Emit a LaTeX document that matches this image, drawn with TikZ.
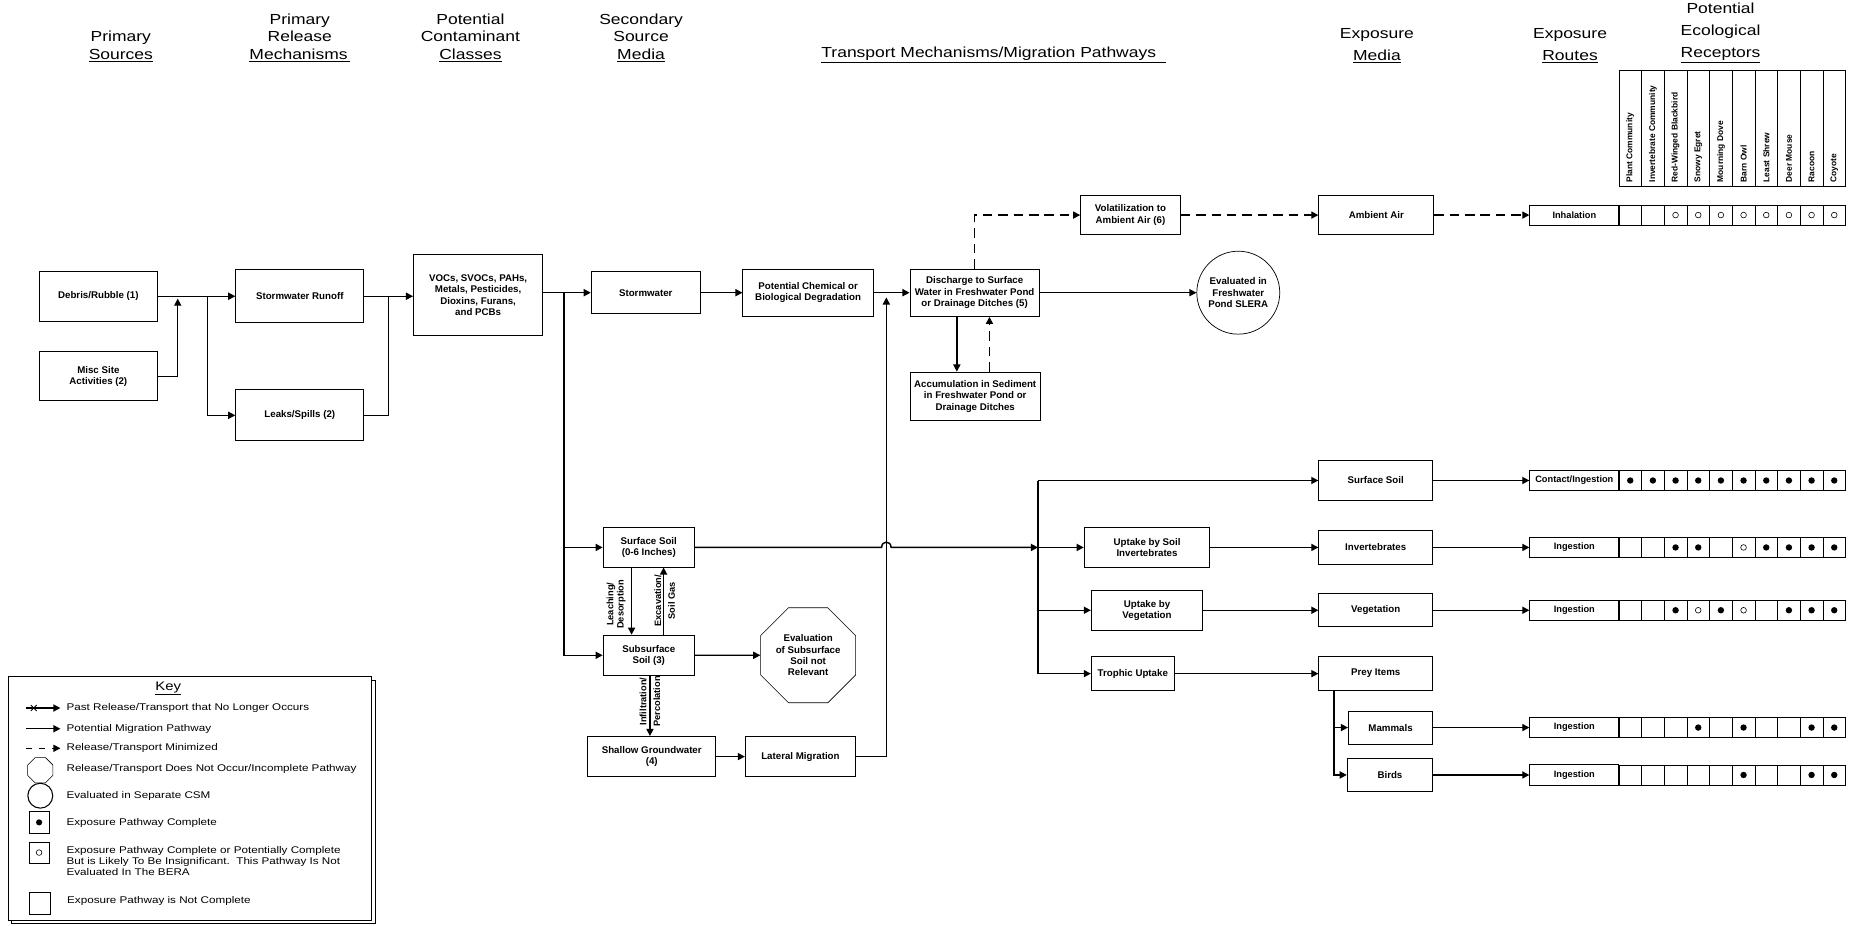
\documentclass[tikz,border=0pt]{standalone}
\usepackage{fontspec}
\setmainfont{Liberation Sans}[FakeStretch=1.2]
\newfontfamily\recfont{Liberation Sans}
\usetikzlibrary{arrows.meta,shapes.geometric}

\newcommand{\boxfont}{\recfont\fontsize{8.2}{9.5}\selectfont\bfseries}
\newcommand{\hdrfont}{\fontsize{12.3}{14.8}\selectfont}
\newcommand{\keyfont}{\fontsize{8.2}{9.4}\selectfont}
\newcommand{\rowfont}{\recfont\fontsize{7.8}{9}\selectfont\bfseries}
\newcommand{\recepfont}{\recfont\fontsize{7.1}{8}\selectfont\bfseries}
\newcommand{\lblfont}{\recfont\fontsize{7.8}{8.6}\selectfont\bfseries}

% one exposure route row: name, y, label, codes (0 none, 1 complete, 2 insignificant)
\newcommand{\exprow}[4]{%
  \node[routebox] (#1) at (1328.6,#2) {#3};
  \foreach \val [count=\col] in {#4} {
    \draw[cell] ({1366.2+(\col-1)*19.13},{#2-8.5}) rectangle ++(19.13,17);
    \ifnum\val=1 \fill ({1366.2+(\col-0.5)*19.13},#2) circle (2.7pt);\fi
    \ifnum\val=2 \draw[line width=0.5pt] ({1366.2+(\col-0.5)*19.13},#2) circle (2.4pt);\fi
  }
}

\begin{document}
\begin{tikzpicture}[x=1pt,y=-1pt,
  box/.style={draw, line width=0.8pt, align=center, font=\boxfont, inner sep=1pt},
  flow/.style={line width=1.2pt, -{Triangle[length=6pt,width=6pt]}},
  dflow/.style={flow, dash pattern=on 8pt off 5pt},
  link/.style={line width=1.2pt},
  hdr/.style={align=center, font=\hdrfont, inner sep=0pt, anchor=south},
  routebox/.style={draw, line width=0.7pt, minimum width=75.2pt, minimum height=17pt, inner sep=0pt, font=\rowfont},
  cell/.style={draw, line width=0.6pt},
  recep/.style={rotate=90, anchor=west, font=\recepfont, inner sep=1pt},
  lbl/.style={rotate=90, align=center, font=\lblfont, inner sep=1pt},
  keytxt/.style={anchor=west, align=left, font=\keyfont, inner sep=0pt}]

\useasboundingbox (0,0) rectangle (1568,781);

% column headings
\node[hdr] (hps) at (102,52.5) {Primary\\\underline{Sources}};
\node[hdr] (hprm) at (253,52.5) {Primary\\Release\\\underline{Mechanisms\,}};
\node[hdr] (hpcc) at (397,52.5) {Potential\\Contaminant\\\underline{Classes}};
\node[hdr] (hssm) at (541,52.5) {Secondary\\Source\\\underline{Media}};
\node[hdr, anchor=south west] (htm) at (693,53) {\underline{Transport Mechanisms/Migration Pathways\ \ }};
\node[hdr] (hem) at (1162,53) {Exposure\\[3.5pt]\underline{Media}};
\node[hdr] (her) at (1325,53) {Exposure\\[3.5pt]\underline{Routes}};
\node[hdr] (hper) at (1452,53) {Potential\\[3.5pt]Ecological\\[3.5pt]\underline{Receptors}};

% receptor table heading
\draw[cell] (1366.2,59.7) rectangle (1557.5,157.5);
\foreach \col in {1,...,9}
  \draw[cell] ({1366.2+\col*19.13},59.7) -- ++(0,97.8);
\foreach \r [count=\col] in {Plant Community, Invertebrate Community, Red-Winged Blackbird,
    Snowy Egret, Mourning Dove, Barn Owl, Least Shrew, Deer Mouse, Racoon, Coyote}
  \node[recep] (rec\col) at ({1366.2+(\col-0.5)*19.13},155) {\r};

% sources and release
\node[box, minimum width=100pt, minimum height=42pt] (deb) at (83,250) {Debris/Rubble (1)};
\node[box, minimum width=100pt, minimum height=41pt] (misc) at (83,317.5) {Misc Site\\Activities (2)};
\node[box, minimum width=108pt, minimum height=45pt] (runoff) at (253,250) {Stormwater Runoff};
\node[box, minimum width=108pt, minimum height=43pt] (leaks) at (253,350.5) {Leaks/Spills (2)};
\node[box, minimum width=109pt, minimum height=68pt] (voc) at (403.5,249) {VOCs, SVOCs, PAHs,\\Metals, Pesticides,\\Dioxins, Furans,\\and PCBs};

% secondary media and transport
\node[box, minimum width=92pt, minimum height=35pt] (stw) at (545,247) {Stormwater};
\node[box, minimum width=110pt, minimum height=40pt] (degr) at (682,247) {Potential Chemical or\\Biological Degradation};
\node[box, minimum width=109pt, minimum height=40pt] (disch) at (822.5,247) {Discharge to Surface\\Water in Freshwater Pond\\or Drainage Ditches (5)};
\node[box, minimum width=84pt, minimum height=33pt] (volat) at (954,181.5) {Volatilization to\\Ambient Air (6)};
\node[box, minimum width=97pt, minimum height=33pt] (amb) at (1161.5,181.5) {Ambient Air};
\node[box, circle, minimum size=70pt, line width=0.6pt] (slera) at (1045,247) {Evaluated in\\Freshwater\\Pond SLERA};
\node[box, minimum width=110pt, minimum height=41pt] (accum) at (823,334.5) {Accumulation in Sediment\\in Freshwater Pond or\\Drainage Ditches};
\node[box, minimum width=77pt, minimum height=33pt] (ssoil) at (547.5,462) {Surface Soil\\(0-6 Inches)};
\node[box, minimum width=77pt, minimum height=34pt] (subs) at (547.5,553) {Subsurface\\Soil (3)};
\node[box, regular polygon, regular polygon sides=8, minimum size=85pt, line width=0.5pt] (evsub) at (682,553) {Evaluation\\of Subsurface\\Soil not\\Relevant};
\node[box, minimum width=108pt, minimum height=34pt] (gw) at (550,638.5) {Shallow Groundwater\\(4)};
\node[box, minimum width=93pt, minimum height=34pt] (lat) at (675.5,638.5) {Lateral Migration};

% uptake and exposure media
\node[box, minimum width=106pt, minimum height=34pt] (upinv) at (968,462) {Uptake by Soil\\Invertebrates};
\node[box, minimum width=94pt, minimum height=34pt] (upveg) at (968,515) {Uptake by\\Vegetation};
\node[box, minimum width=70pt, minimum height=29pt] (troph) at (956,568.5) {Trophic Uptake};
\node[box, minimum width=96pt, minimum height=33pt] (msoil) at (1161,405.5) {Surface Soil};
\node[box, minimum width=96pt, minimum height=28pt] (minv) at (1161,462) {Invertebrates};
\node[box, minimum width=96pt, minimum height=28pt] (mveg) at (1161,515) {Vegetation};
\node[box, minimum width=96pt, minimum height=29pt] (prey) at (1161,568.5) {Prey Items};
\node[box, minimum width=71pt, minimum height=28pt] (mam) at (1173.5,614) {Mammals};
\node[box, minimum width=72pt, minimum height=28pt] (bird) at (1173,654) {Birds};

% exposure routes
\exprow{inh}{181.5}{Inhalation}{0,0,2,2,2,2,2,2,2,2}
\exprow{cont}{405.5}{Contact/Ingestion}{1,1,1,1,1,1,1,1,1,1}
\exprow{inginv}{462}{Ingestion}{0,0,1,1,0,2,1,1,1,1}
\exprow{ingveg}{515}{Ingestion}{0,0,1,2,1,2,0,1,1,1}
\exprow{ingmam}{614}{Ingestion}{0,0,0,1,0,1,0,0,1,1}
\exprow{ingbird}{654}{Ingestion}{0,0,0,0,0,1,0,0,1,1}

% left side connectors
\coordinate (j1) at (150,252);
\coordinate (j2) at (175,250);
\coordinate (j3) at (328,250);
\coordinate (j4) at (476,247);
\draw[flow] (deb) -- (runoff);
\draw[flow] (misc.east) -| (j1);
\draw[flow] (j2) |- (leaks.west);
\draw[link] (leaks.east) -| (j3);
\draw[flow] (runoff.east) -- (runoff.east -| voc.west);
\draw[flow] (voc.east |- stw.west) -- (stw.west);
\draw[flow] (j4) |- (subs.west);
\draw[flow] (j4 |- ssoil.west) -- (ssoil.west);
\draw[flow] (stw) -- (degr);
\draw[flow] (degr) -- (disch);

% surface water
\draw[dflow] (disch.north) |- (volat.west);
\draw[dflow] (volat) -- (amb);
\draw[dflow] (amb) -- (inh);
\draw[flow] (disch) -- (slera);
\coordinate (dd) at ([xshift=-15pt]disch.south);
\draw[flow] (dd) -- (dd |- accum.north);
\coordinate (du) at ([xshift=12pt]accum.north);
\draw[dflow] (du) -- (du |- disch.south);

% soil and groundwater
\coordinate (sl) at ([xshift=-14.5pt]ssoil.south);
\draw[flow] (sl) -- (sl |- subs.north);
\node[lbl, anchor=south] (leach) at (529,510) {Leaching/\\Desorption};
\coordinate (se) at ([xshift=12.5pt]subs.north);
\draw[flow] (se) -- (se |- ssoil.south);
\node[lbl] (excav) at (561,507) {Excavation/\\[3pt]Soil Gas};
\coordinate (si) at ([xshift=1pt]subs.south);
\draw[flow] (si) -- (si |- gw.north);
\node[lbl] (infil) at (548.5,592) {Infiltration/\\[3pt]Percolation};
\draw[flow] (subs) -- (evsub);
\draw[flow] (gw) -- (lat);
\coordinate (j5) at (748,251);
\draw[flow] (lat.east) -| (j5);

% surface soil pathways
\coordinate (h1) at (744,462);
\coordinate (h2) at (752,462);
\coordinate (j6) at (876,462);
\draw[flow] (ssoil.east) -- (h1) .. controls (744,456) and (752,456) .. (h2) -- (j6);
\draw[link] (j6 |- msoil.west) -- (j6 |- troph.west);
\draw[flow] (j6 |- msoil.west) -- (msoil.west);
\draw[flow] (j6) -- (upinv.west);
\draw[flow] (j6 |- upveg.west) -- (upveg.west);
\draw[flow] (j6 |- troph.west) -- (troph.west);
\draw[flow] (upinv) -- (minv);
\draw[flow] (upveg) -- (mveg);
\draw[flow] (troph) -- (prey);
\coordinate (pb) at ([xshift=13pt]prey.south west);
\draw[flow] (pb) |- (mam.west);
\draw[flow] (pb) |- (bird.west);
\draw[flow] (msoil) -- (cont);
\draw[flow] (minv) -- (inginv);
\draw[flow] (mveg) -- (ingveg);
\draw[flow] (mam) -- (ingmam);
\draw[flow] (bird) -- (ingbird);

% key
\draw[line width=0.7pt, fill=white] (10,574) rectangle (316.5,779.5);
\draw[line width=0.7pt, fill=white] (7,571) rectangle (313.5,776.5);
\node[font=\fontsize{10.5}{12}\selectfont, inner sep=0pt] (keyt) at (142,581) {\underline{Key}};
\draw[flow] (22,597.5) -- (51,597.5);
\draw[line width=0.7pt] (26,595) -- (31,600) (26,600) -- (31,595);
\draw[flow] (22,615) -- (51,615);
\draw[flow, dash pattern=on 5pt off 6pt] (22,631.5) -- (51,631.5);
\node[draw, regular polygon, regular polygon sides=8, minimum size=23pt, inner sep=0pt, line width=0.5pt] (koct) at (34,650) {};
\node[draw, circle, minimum size=21pt, inner sep=0pt, line width=0.9pt] (kcirc) at (34,671.5) {};
\node[draw, minimum width=17pt, minimum height=18pt, inner sep=0pt, line width=0.6pt] (kfull) at (33,694) {};
\fill (kfull.center) circle (2.6pt);
\node[draw, minimum width=17pt, minimum height=17.5pt, inner sep=0pt, line width=0.6pt] (kopen) at (33,719.5) {};
\draw[line width=0.5pt] (kopen.center) circle (2.4pt);
\node[draw, minimum width=18pt, minimum height=19pt, inner sep=0pt, line width=0.6pt] (knone) at (33.5,762.5) {};
\node[keytxt] (kt1) at (56,597.5) {Past Release/Transport that No Longer Occurs};
\node[keytxt] (kt2) at (56,615) {Potential Migration Pathway};
\node[keytxt] (kt3) at (56,631.5) {Release/Transport Minimized};
\node[keytxt] (kt4) at (56,649) {Release/Transport Does Not Occur/Incomplete Pathway};
\node[keytxt] (kt5) at (56,672) {Evaluated in Separate CSM};
\node[keytxt] (kt6) at (56,694.5) {Exposure Pathway Complete};
\node[keytxt] (kt7) at (56,726.5) {Exposure Pathway Complete or Potentially Complete\\But is Likely To Be Insignificant.\ \ This Pathway Is Not\\Evaluated In The BERA};
\node[keytxt] (kt8) at (56.5,760) {Exposure Pathway is Not Complete};
\end{tikzpicture}
\end{document}
